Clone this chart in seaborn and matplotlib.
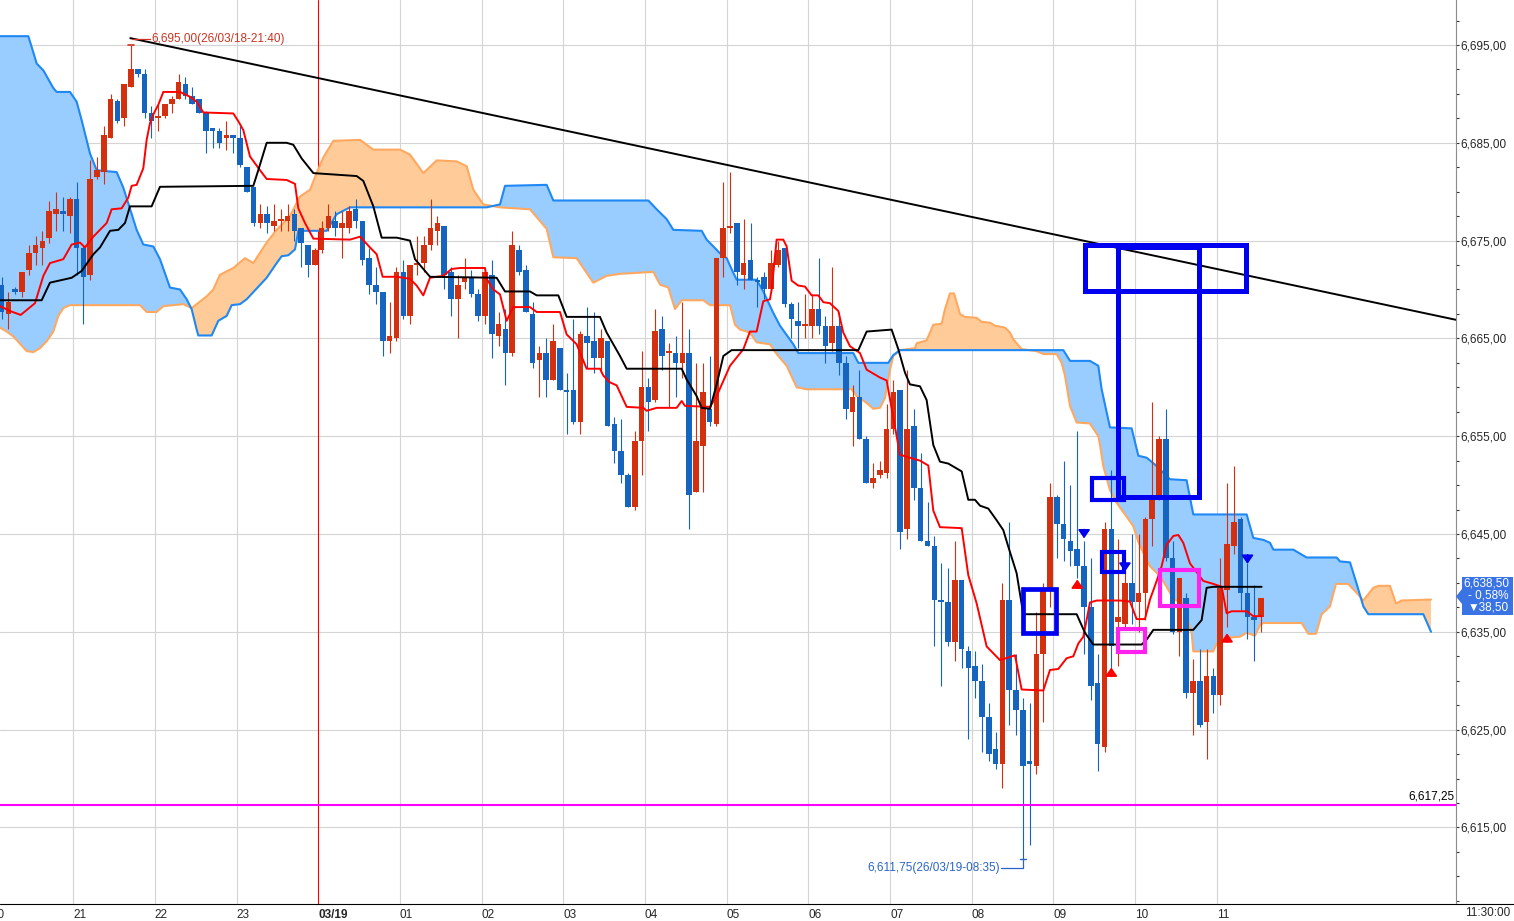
import numpy as np
import matplotlib
matplotlib.use('Agg')
import matplotlib.pyplot as plt
from matplotlib.lines import Line2D
from matplotlib.patches import Rectangle, Polygon
from matplotlib.ticker import FixedLocator, FuncFormatter
import seaborn as sns

# --- 5-minute candles, first bar = 20:05 (bar index -47 relative to 03/19 00:00) ---
first_bar = -47
opens = [
    6670.5, 6667.5, 6670.0, 6669.75, 6672.0, 6673.75, 6674.25, 6675.25, 6677.75, 6678.0, 6677.5,
    6679.25, 6674.25, 6671.5, 6681.5, 6682.0, 6685.5, 6689.25, 6687.5, 6690.75, 6692.5, 6692.0, 6688.0,
    6687.5, 6687.75, 6689.0, 6689.5, 6691.0, 6689.75, 6689.5, 6688.0, 6686.5, 6686.25, 6685.5, 6685.75,
    6685.5, 6682.5, 6680.5, 6676.75, 6677.75, 6676.5, 6677.0, 6677.0, 6677.75, 6676.25, 6674.5, 6672.5,
    6674.0, 6676.25, 6677.0, 6676.25, 6676.25, 6678.25, 6677.0, 6673.25, 6670.5, 6669.75, 6664.75, 6665.0,
    6671.75, 6667.25, 6672.5, 6672.75, 6674.5, 6676.0, 6676.5, 6671.75, 6669.0, 6670.75, 6671.25, 6669.5,
    6667.25, 6671.5, 6665.25, 6666.0, 6663.5, 6674.0, 6672.0, 6667.5, 6662.75, 6663.5, 6660.75, 6664.0,
    6659.75, 6659.75, 6656.5, 6665.25, 6664.75, 6663.0, 6664.75, 6656.25, 6653.5, 6651.0, 6647.75, 6654.5,
    6660.0, 6658.75, 6666.0, 6663.5, 6663.5, 6662.5, 6663.5, 6649.25, 6654.0, 6657.75, 6656.25, 6673.25,
    6676.25, 6676.75, 6671.5, 6673.0, 6671.0, 6671.25, 6670.0, 6672.5, 6674.25, 6668.5, 6666.75, 6666.25,
    6666.25, 6668.0, 6666.25, 6664.5, 6666.25, 6662.5, 6657.5, 6659.0, 6654.75, 6650.25, 6651.0, 6651.25,
    6655.75, 6659.75, 6645.5, 6656.0, 6649.75, 6644.25, 6643.75, 6638.25, 6638.0, 6634.0, 6640.25, 6633.0,
    6631.5, 6630.0, 6626.25, 6623.0, 6621.5, 6638.25, 6629.0, 6627.0, 6621.75, 6621.25, 6632.75, 6639.25,
    6648.75, 6646.0, 6644.25, 6643.5, 6641.75, 6637.5, 6629.75, 6623.25, 6645.5, 6636.0, 6635.75, 6640.0,
    6638.0, 6639.0, 6646.5, 6649.0, 6654.75, 6642.5, 6635.0, 6638.5, 6628.75, 6630.0, 6625.75, 6630.5,
    6628.5, 6639.25, 6643.75, 6646.5, 6639.0, 6636.5, 6636.5,
]
highs = [
    6671.25, 6669.75, 6670.25, 6671.75, 6674.5, 6675.5, 6676.0, 6679.0, 6680.0, 6679.5, 6679.5,
    6681.0, 6674.5, 6683.25, 6683.5, 6686.75, 6690.0, 6689.5, 6691.0, 6695.0, 6692.5, 6692.5, 6688.75,
    6689.0, 6689.0, 6689.75, 6692.0, 6691.75, 6690.75, 6689.5, 6688.25, 6686.5, 6686.5, 6687.25, 6685.75,
    6686.75, 6682.5, 6680.5, 6678.75, 6678.5, 6678.75, 6678.25, 6678.75, 6678.25, 6676.25, 6674.5, 6674.25,
    6677.0, 6678.75, 6678.0, 6678.0, 6678.5, 6679.25, 6677.0, 6674.25, 6672.25, 6669.75, 6668.75, 6672.25,
    6673.0, 6672.5, 6675.5, 6675.5, 6679.25, 6677.5, 6676.5, 6672.25, 6671.5, 6673.25, 6672.0, 6670.0,
    6671.75, 6673.0, 6667.75, 6668.0, 6676.0, 6674.5, 6672.5, 6668.75, 6664.25, 6665.0, 6666.5, 6664.0,
    6661.5, 6667.0, 6665.75, 6668.25, 6667.75, 6666.0, 6664.75, 6657.0, 6656.75, 6651.25, 6655.5, 6663.75,
    6661.0, 6668.0, 6667.25, 6664.5, 6665.25, 6668.75, 6666.0, 6662.5, 6662.5, 6663.25, 6673.25, 6681.0,
    6682.0, 6676.75, 6677.25, 6676.75, 6671.25, 6671.75, 6674.0, 6675.0, 6674.25, 6668.75, 6668.75, 6669.5,
    6669.5, 6673.25, 6667.25, 6672.25, 6667.75, 6663.25, 6660.25, 6661.75, 6655.0, 6652.25, 6652.5, 6658.25,
    6660.75, 6659.75, 6661.75, 6657.75, 6653.25, 6648.25, 6644.75, 6642.0, 6641.5, 6644.25, 6640.25, 6633.5,
    6633.0, 6631.75, 6627.75, 6624.75, 6640.0, 6646.25, 6632.75, 6628.25, 6627.75, 6637.0, 6640.0, 6650.25,
    6649.0, 6652.5, 6650.0, 6655.5, 6644.25, 6642.5, 6632.75, 6646.25, 6651.5, 6644.5, 6641.0, 6645.0,
    6645.0, 6646.75, 6658.5, 6655.0, 6657.75, 6644.25, 6640.5, 6639.0, 6632.25, 6633.25, 6633.25, 6631.25,
    6642.5, 6650.25, 6652.0, 6646.75, 6642.0, 6639.75, 6638.5,
]
lows = [
    6667.0, 6666.0, 6669.5, 6669.25, 6671.5, 6672.5, 6672.5, 6674.75, 6676.0, 6676.0, 6675.75,
    6671.5, 6666.5, 6671.0, 6681.25, 6680.75, 6685.5, 6687.0, 6686.75, 6690.75, 6691.75, 6687.5, 6685.5,
    6686.25, 6687.5, 6688.0, 6689.5, 6689.5, 6689.0, 6688.0, 6684.0, 6684.5, 6684.5, 6684.25, 6684.0,
    6682.5, 6680.0, 6676.5, 6676.25, 6675.75, 6676.0, 6676.0, 6676.0, 6675.0, 6672.25, 6671.25, 6672.5,
    6673.75, 6676.0, 6675.5, 6673.25, 6675.75, 6676.25, 6672.5, 6669.5, 6668.5, 6663.25, 6663.5, 6664.75,
    6667.0, 6666.5, 6671.5, 6671.75, 6674.0, 6674.5, 6670.0, 6667.25, 6665.0, 6670.0, 6669.25, 6666.75,
    6666.5, 6663.0, 6664.25, 6660.25, 6663.25, 6671.5, 6667.75, 6662.0, 6659.0, 6659.0, 6660.75, 6659.75,
    6655.25, 6656.25, 6655.25, 6662.0, 6661.5, 6661.5, 6656.0, 6652.25, 6650.25, 6647.75, 6647.5, 6651.0,
    6655.5, 6658.5, 6661.75, 6658.0, 6659.0, 6661.0, 6645.5, 6649.25, 6649.25, 6656.0, 6656.0, 6671.25,
    6675.75, 6670.5, 6670.0, 6671.0, 6668.25, 6669.0, 6669.75, 6672.25, 6668.25, 6665.0, 6664.0, 6665.0,
    6665.0, 6665.5, 6662.5, 6663.75, 6661.25, 6656.75, 6654.0, 6654.75, 6650.25, 6649.75, 6650.75, 6650.75,
    6655.25, 6643.5, 6644.5, 6648.5, 6644.25, 6643.75, 6633.5, 6629.5, 6633.5, 6632.0, 6631.25, 6624.0,
    6628.25, 6622.75, 6621.75, 6621.0, 6619.0, 6625.5, 6624.5, 6611.75, 6613.25, 6620.5, 6625.75, 6637.5,
    6642.5, 6642.25, 6641.75, 6640.5, 6632.75, 6628.0, 6620.75, 6622.75, 6630.75, 6631.5, 6635.5, 6635.75,
    6635.0, 6636.25, 6643.75, 6648.5, 6642.25, 6634.75, 6632.5, 6628.25, 6624.5, 6625.25, 6622.0, 6626.75,
    6627.5, 6635.5, 6643.0, 6637.25, 6634.25, 6632.0, 6635.0,
]
closes = [
    6667.75, 6668.75, 6669.75, 6671.75, 6673.75, 6674.5, 6675.0, 6678.0, 6678.25, 6677.75, 6679.25,
    6674.25, 6671.25, 6681.25, 6682.25, 6685.75, 6689.5, 6687.25, 6691.0, 6692.5, 6692.0, 6688.0, 6687.25,
    6687.75, 6689.0, 6689.5, 6691.25, 6689.75, 6689.0, 6688.0, 6686.25, 6686.25, 6685.0, 6685.75, 6685.5,
    6682.75, 6680.0, 6676.75, 6677.75, 6676.75, 6677.0, 6677.25, 6677.5, 6676.0, 6674.75, 6672.5, 6674.0,
    6676.25, 6677.5, 6676.25, 6676.75, 6678.0, 6677.0, 6673.0, 6670.5, 6669.75, 6664.75, 6665.25, 6671.75,
    6667.25, 6672.5, 6672.75, 6674.5, 6676.25, 6676.75, 6671.5, 6669.0, 6670.5, 6671.25, 6669.5, 6667.25,
    6671.75, 6665.5, 6666.5, 6663.5, 6674.5, 6671.75, 6667.75, 6662.5, 6663.5, 6660.75, 6664.75, 6659.75,
    6659.5, 6656.5, 6665.5, 6664.5, 6663.0, 6665.0, 6656.0, 6653.5, 6651.0, 6647.75, 6654.5, 6660.0,
    6658.5, 6665.75, 6663.25, 6663.75, 6662.5, 6663.5, 6649.0, 6654.5, 6659.5, 6656.5, 6673.25, 6676.25,
    6676.5, 6671.75, 6672.75, 6671.0, 6670.75, 6670.0, 6672.75, 6674.0, 6668.5, 6667.0, 6666.25, 6666.5,
    6668.0, 6666.25, 6664.25, 6666.25, 6662.5, 6657.75, 6659.0, 6654.75, 6650.25, 6650.75, 6651.5, 6655.75,
    6659.5, 6645.25, 6655.75, 6649.75, 6644.25, 6643.75, 6638.25, 6638.0, 6634.0, 6640.25, 6633.25, 6631.25,
    6630.0, 6626.25, 6622.5, 6621.5, 6638.25, 6629.0, 6627.0, 6621.25, 6621.5, 6632.75, 6639.25, 6648.75,
    6646.0, 6644.5, 6643.25, 6641.75, 6637.5, 6629.5, 6623.5, 6645.5, 6633.5, 6636.5, 6640.0, 6638.0,
    6639.0, 6646.5, 6648.5, 6654.75, 6642.5, 6635.0, 6640.5, 6628.75, 6630.0, 6625.5, 6630.5, 6628.5,
    6639.5, 6644.0, 6646.25, 6639.0, 6636.5, 6636.25, 6638.5,
]

# --- Ichimoku lines, read as breakpoints (x in 5-min bars from 03/19 00:00) ---
tenkan_x = [-46.74, -45.27, -43.70, -41.60, -40.37, -39.40, -37.44, -36.21, -34.99, -34.26, -33.03,
            -32.05, -31.07, -30.34, -28.87, -27.89, -27.40, -26.67, -25.69, -25.20, -24.71, -24.22,
            -23.48, -22.75, -20.30, -18.83, -17.85, -16.87, -12.47, -11.73, -11.00, -10.02, -8.55,
            -7.57, -4.64, -3.41, -2.92, -1.94, -0.71, 4.67, 6.14, 7.61, 8.59, 9.47, 11.53, 13.48, 14.46,
            15.44, 16.42, 18.38, 19.60, 20.83, 24.50, 24.74, 25.72, 26.70, 27.68, 28.66, 31.11, 32.09,
            35.52, 36.50, 37.96, 39.43, 41.39, 41.88, 42.86, 43.84, 44.57, 45.31, 47.76, 48.25, 49.72,
            52.65, 53.39, 53.88, 57.55, 58.53, 60.49, 62.45, 63.42, 64.40, 65.38, 66.36, 66.61, 67.34,
            68.32, 68.81, 69.54, 70.52, 71.50, 72.48, 73.46, 74.20, 75.17, 76.40, 77.13, 78.11, 79.58,
            80.56, 82.52, 83.50, 85.46, 88.40, 89.62, 90.35, 91.33, 94.52, 95.49, 96.72, 98.19, 100.15,
            102.35, 103.33, 106.51, 107.49, 108.71, 109.94, 110.92, 111.65, 112.39, 113.37, 114.35,
            117.77, 119.24, 120.22, 121.44, 122.18, 123.16, 123.89, 124.63, 125.61, 126.34, 127.07,
            128.05, 130.01, 131.48, 132.71, 133.44, 134.18, 136.38, 137.36, 138.58]
tenkan_y = [6668.3, 6667.8, 6667.4, 6668.6, 6671.4, 6672.7, 6673.1, 6674.6, 6674.8, 6674.3, 6675.4,
            6676.1, 6676.8, 6678.2, 6678.3, 6679.4, 6680.6, 6680.7, 6682.4, 6685.3, 6687.0, 6687.9,
            6688.9, 6690.2, 6690.2, 6689.7, 6689.2, 6688.1, 6688.0, 6687.2, 6686.3, 6683.6, 6682.2,
            6681.3, 6681.2, 6680.8, 6678.3, 6676.8, 6675.2, 6675.1, 6675.4, 6674.3, 6673.6, 6671.3,
            6671.3, 6671.1, 6670.4, 6669.4, 6671.2, 6671.4, 6672.1, 6672.2, 6672.2, 6671.1, 6670.0,
            6669.5, 6666.8, 6668.2, 6668.2, 6667.7, 6667.7, 6665.4, 6664.4, 6661.9, 6661.9, 6661.2,
            6660.5, 6660.2, 6659.1, 6658.0, 6657.9, 6657.6, 6657.9, 6657.9, 6658.6, 6658.1, 6658.0,
            6659.1, 6662.2, 6663.9, 6665.7, 6665.7, 6668.8, 6669.0, 6670.0, 6675.1, 6675.1, 6674.4,
            6670.9, 6670.4, 6670.3, 6669.4, 6669.4, 6668.7, 6668.6, 6667.8, 6665.6, 6664.2, 6663.5,
            6661.8, 6661.0, 6660.7, 6653.1, 6652.5, 6652.0, 6647.4, 6645.7, 6645.6, 6640.8, 6637.9,
            6633.5, 6632.1, 6632.6, 6629.1, 6629.0, 6631.1, 6631.2, 6632.3, 6632.5, 6633.8, 6634.5,
            6638.0, 6638.2, 6638.2, 6638.1, 6636.3, 6636.3, 6638.3, 6640.2, 6641.7, 6643.9, 6644.8,
            6644.9, 6644.1, 6642.0, 6640.2, 6639.9, 6639.6, 6636.9, 6637.1, 6637.1, 6636.6, 6636.6]

kijun_x = [-46.74, -40.62, -39.40, -36.21, -34.74, -33.03, -32.05, -30.58, -29.36, -28.38, -27.65,
           -24.47, -23.24, -9.53, -8.80, -7.57, -4.64, -3.66, -2.43, -0.71, 5.65, 6.63, 8.10, 9.32,
           11.53, 13.48, 14.22, 16.42, 26.21, 27.44, 31.11, 32.09, 35.27, 36.50, 41.39, 42.37, 44.33,
           45.31, 53.39, 54.12, 55.59, 56.33, 57.55, 58.53, 59.51, 60.73, 79.34, 80.56, 84.23, 85.21,
           86.19, 86.92, 88.40, 89.37, 90.35, 91.33, 92.56, 94.52, 95.49, 96.47, 97.21, 98.43, 99.66,
           100.63, 101.37, 102.59, 103.08, 103.57, 111.41, 112.63, 113.86, 120.96, 121.69, 122.67,
           128.54, 129.77, 130.50, 131.48, 138.58]
kijun_y = [6668.9, 6668.9, 6670.7, 6671.2, 6671.9, 6673.6, 6674.3, 6676.0, 6676.1, 6676.8, 6678.5,
           6678.5, 6680.5, 6680.6, 6682.2, 6685.0, 6685.0, 6684.8, 6683.4, 6681.9, 6681.6, 6681.1,
           6678.5, 6675.3, 6675.3, 6675.0, 6673.1, 6671.3, 6671.2, 6669.8, 6669.8, 6669.4, 6669.4,
           6667.2, 6667.2, 6665.6, 6663.2, 6661.9, 6661.9, 6660.8, 6659.1, 6657.9, 6657.8, 6660.3,
           6663.2, 6663.8, 6663.8, 6665.7, 6665.9, 6663.9, 6661.5, 6660.3, 6660.1, 6658.7, 6654.1,
           6652.4, 6652.2, 6651.4, 6648.5, 6648.5, 6647.9, 6647.6, 6646.4, 6645.4, 6643.7, 6641.0,
           6638.9, 6636.8, 6636.8, 6634.9, 6633.7, 6633.7, 6634.2, 6635.2, 6635.2, 6636.2, 6639.5,
           6639.6, 6639.6]

span_a_x = [-46.74, -42.58, -42.09, -41.35, -40.37, -38.91, -38.42, -36.46, -35.48, -34.74, -33.52,
            -32.54, -29.60, -28.62, -27.89, -26.67, -25.69, -24.22, -23.24, -21.77, -20.30, -19.32,
            -18.59, -17.85, -17.61, -15.65, -14.67, -13.45, -12.71, -11.49, -10.51, -7.57, -6.10,
            -5.37, -4.39, -3.41, -2.92, 1.24, 2.71, 4.67, 24.74, 26.70, 27.44, 33.56, 34.54, 48.49,
            49.72, 51.18, 52.16, 56.33, 57.06, 59.02, 60.00, 60.98, 61.47, 64.40, 65.38, 66.85, 67.83,
            69.79, 70.52, 78.60, 79.34, 83.74, 84.48, 85.46, 109.45, 110.43, 113.36, 114.59, 115.08,
            116.30, 119.49, 120.47, 121.69, 122.91, 125.12, 127.56, 128.54, 136.38, 137.36, 138.83,
            139.81, 140.30, 143.23, 145.19, 149.60, 150.09, 151.56, 152.54, 153.52, 154.25, 162.33,
            163.46]
span_a_y = [6695.9, 6695.9, 6694.8, 6693.1, 6692.4, 6690.6, 6690.2, 6690.2, 6689.2, 6687.3, 6683.9,
            6682.2, 6682.0, 6680.4, 6678.8, 6676.1, 6674.6, 6674.4, 6673.1, 6670.2, 6670.0, 6669.0,
            6668.0, 6665.9, 6665.3, 6665.3, 6666.8, 6667.3, 6668.4, 6668.5, 6669.0, 6671.2, 6672.7,
            6673.4, 6673.5, 6674.1, 6676.0, 6676.0, 6677.7, 6678.4, 6678.4, 6678.7, 6680.6, 6680.7,
            6679.1, 6679.1, 6678.2, 6677.2, 6676.1, 6676.0, 6675.1, 6673.7, 6673.2, 6671.7, 6671.0,
            6671.0, 6669.8, 6667.6, 6666.3, 6664.4, 6663.5, 6663.5, 6662.5, 6662.5, 6663.3, 6663.8,
            6663.8, 6662.7, 6662.7, 6662.2, 6659.8, 6655.9, 6655.8, 6653.0, 6652.8, 6652.1, 6650.6,
            6650.5, 6647.0, 6647.0, 6644.6, 6644.4, 6644.1, 6643.4, 6643.4, 6642.6, 6642.6, 6642.2,
            6642.1, 6639.9, 6637.6, 6636.8, 6636.8, 6635.0]

span_b_x = [-46.74, -45.76, -44.78, -42.82, -41.84, -40.87, -39.89, -38.91, -38.17, -37.44, -36.46,
            -26.18, -25.20, -23.73, -22.75, -19.81, -18.59, -16.38, -15.41, -14.43, -12.47, -10.76,
            -9.53, -7.57, -6.10, -4.15, -2.68, -1.20, -0.23, 0.75, 2.22, 6.14, 8.10, 12.02, 13.48,
            15.44, 17.40, 20.34, 21.81, 22.79, 24.25, 26.70, 31.11, 33.56, 34.54, 37.96, 40.41, 42.37,
            44.33, 49.23, 50.21, 51.43, 52.41, 53.39, 56.57, 57.55, 60.49, 61.22, 61.96, 63.42, 64.40,
            66.36, 67.34, 68.81, 70.28, 71.75, 78.36, 79.09, 80.56, 81.54, 82.52, 83.25, 83.99, 84.48,
            85.46, 87.66, 87.91, 89.37, 90.35, 91.58, 92.07, 92.80, 93.39, 94.27, 95.00, 96.72, 97.45,
            98.68, 99.41, 100.88, 101.61, 102.10, 103.33, 105.53, 106.51, 108.47, 109.20, 109.69,
            110.43, 111.41, 113.36, 114.59, 114.84, 115.33, 116.30, 117.28, 119.73, 120.47, 121.44,
            122.18, 123.65, 124.63, 125.61, 127.07, 128.30, 128.54, 131.48, 131.97, 133.44, 135.40,
            136.38, 137.60, 138.34, 138.83, 144.46, 145.44, 146.56, 147.40, 148.62, 149.50, 151.31,
            152.78, 153.52, 154.99, 155.72, 157.43, 158.31, 159.15, 163.46]
span_b_y = [6666.1, 6665.7, 6665.2, 6663.7, 6663.6, 6664.0, 6664.7, 6665.7, 6667.3, 6668.1, 6668.4,
            6668.4, 6667.7, 6667.7, 6668.3, 6668.5, 6668.1, 6669.3, 6670.0, 6671.5, 6672.2, 6673.2,
            6672.7, 6674.8, 6676.1, 6677.5, 6679.5, 6680.2, 6681.9, 6683.5, 6685.2, 6685.3, 6684.3,
            6684.3, 6683.8, 6681.9, 6683.2, 6683.1, 6682.6, 6680.2, 6678.7, 6678.4, 6678.2, 6676.2,
            6673.3, 6673.2, 6670.7, 6671.4, 6671.6, 6671.8, 6670.5, 6670.2, 6668.0, 6668.9, 6668.9,
            6668.4, 6668.4, 6666.4, 6665.9, 6665.6, 6664.6, 6664.4, 6663.4, 6662.2, 6660.0, 6659.8,
            6659.8, 6659.1, 6658.4, 6657.8, 6657.9, 6658.9, 6661.8, 6663.2, 6663.8, 6664.0, 6664.5,
            6664.8, 6666.4, 6666.5, 6668.0, 6669.6, 6669.6, 6667.5, 6667.2, 6667.1, 6666.7, 6666.6,
            6666.3, 6666.1, 6665.6, 6664.9, 6663.9, 6663.7, 6663.4, 6663.4, 6662.5, 6661.2, 6658.1,
            6656.4, 6656.3, 6655.0, 6654.1, 6651.9, 6649.5, 6648.2, 6645.8, 6644.2, 6642.7, 6641.7,
            6640.7, 6639.6, 6638.4, 6637.8, 6634.9, 6633.0, 6633.0, 6633.8, 6634.4, 6634.5, 6634.9,
            6634.6, 6635.7, 6635.9, 6635.9, 6634.8, 6634.8, 6636.8, 6637.6, 6639.9, 6639.9, 6638.8,
            6638.2, 6639.5, 6639.7, 6639.7, 6637.9, 6638.2, 6638.3]

# trend line drawn from the 21:40 high
trend_x = [-27.6, 167.13]
trend_y = [6695.7, 6666.9]

support_level = 6617.25
high_price, high_bar = 6695.00, -27.5
low_price, low_bar = 6611.75, 103.5

# signal arrows (bar, price)
up_arrow_x = [111.5, 116.5, 133.5]
up_arrow_y = [6639.9, 6630.9, 6634.4]
down_arrow_x = [112.5, 118.5, 136.5]
down_arrow_y = [6645.0, 6641.6, 6642.4]

# drawn boxes: x0, x1, y0, y1, line width
blue_boxes = [(112.6, 136.25, 6669.8, 6674.55, 3.6), (117.48, 129.38, 6648.8, 6674.3, 3.6),
              (113.59, 118.39, 6648.5, 6650.7, 3.0), (115.1, 118.4, 6641.1, 6643.2, 3.0),
              (103.5, 108.4, 6634.9, 6639.4, 3.4)]
magenta_boxes = [(123.6, 129.45, 6637.6, 6641.3, 3.0), (117.5, 121.4, 6632.9, 6635.3, 3.0)]

hour_ticks = [-3, -2, -1, 0, 1, 2, 3, 4, 5, 6, 7, 8, 9, 10, 11]
hour_labels = ['21', '22', '23', '03/19', '01', '02', '03', '04', '05', '06', '07', '08', '09', '10', '11']
price_ticks = np.arange(6615, 6700, 10)

UP, DOWN = '#D3300F', '#1565C0'
GRID = '#D4D4D4'
FS = 8.5

sns.set_style('white')
plt.rcParams['font.family'] = ['Liberation Sans', 'DejaVu Sans']

W, H = 1514, 921
fig = plt.figure(figsize=(W / 100, H / 100), dpi=100)
ax = fig.add_axes([0, 17 / H, 1456 / W, 904 / H])
ax.set_xlim(-46.74, 167.13)
ax.set_ylim(6607.17, 6699.60)

# grid
for h in hour_ticks:
    ax.axvline(12 * h, color='#FF0000' if h == 0 else GRID, lw=0.8, zorder=0.5 if h == 0 else 0)
for p in price_ticks:
    ax.axhline(p, color=GRID, lw=0.8, zorder=0)

# cloud
xu = np.union1d(span_a_x, span_b_x)
a = np.interp(xu, span_a_x, span_a_y)
b = np.interp(xu, span_b_x, span_b_y)
ax.fill_between(xu, a, b, where=a >= b, interpolate=True, color='#99CCFF', lw=0, zorder=1)
ax.fill_between(xu, a, b, where=a < b, interpolate=True, color='#FFCC99', lw=0, zorder=1)
sns.lineplot(x=span_b_x, y=span_b_y, ax=ax, color='#FFA860', linewidth=1.5, sort=False, estimator=None, zorder=2)
sns.lineplot(x=span_a_x, y=span_a_y, ax=ax, color='#1E88F5', linewidth=1.5, sort=False, estimator=None, zorder=2)

# candles
o, hi, lo, c = map(np.array, (opens, highs, lows, closes))
bar_x = first_bar + 0.5 + np.arange(len(o))
cols = np.where(c >= o, UP, DOWN)
ax.vlines(bar_x, lo, hi, colors=cols, lw=0.8, zorder=3)
ax.bar(bar_x, np.maximum(np.abs(c - o), 0.12), bottom=np.minimum(o, c), width=0.82,
       color=cols, lw=0, zorder=3.5)

# conversion / base lines
sns.lineplot(x=tenkan_x, y=tenkan_y, ax=ax, color='#FF0000', linewidth=1.4, sort=False, estimator=None, zorder=4)
sns.lineplot(x=kijun_x, y=kijun_y, ax=ax, color='#000000', linewidth=1.4, sort=False, estimator=None, zorder=4)
sns.lineplot(x=trend_x, y=trend_y, ax=ax, color='#000000', linewidth=1.4, sort=False, estimator=None, zorder=4)

ax.axhline(support_level, color='#FF00FF', lw=1.5, zorder=5)
ax.text(166.9, support_level + 0.3, '6,617,25', ha='right', va='bottom', fontsize=FS, color='black')

# boxes
for x0, x1, y0, y1, lw in blue_boxes:
    ax.add_patch(Rectangle((x0, y0), x1 - x0, y1 - y0, fill=False, ec='#0000F0', lw=lw,
                           joinstyle='miter', zorder=6))
for x0, x1, y0, y1, lw in magenta_boxes:
    ax.add_patch(Rectangle((x0, y0), x1 - x0, y1 - y0, fill=False, ec='#FF22EE', lw=lw,
                           joinstyle='miter', zorder=6))

# arrows
for x, y in zip(up_arrow_x, up_arrow_y):
    ax.annotate('', xy=(x, y + 0.45), xytext=(x, y - 0.45),
                arrowprops=dict(arrowstyle='-|>,head_length=0.5,head_width=0.35', color='#FF0000',
                                lw=1.3, shrinkA=0, shrinkB=0), zorder=6)
for x, y in zip(down_arrow_x, down_arrow_y):
    ax.annotate('', xy=(x, y - 0.45), xytext=(x, y + 0.45),
                arrowprops=dict(arrowstyle='-|>,head_length=0.5,head_width=0.35', color='#0000F0',
                                lw=1.3, shrinkA=0, shrinkB=0), zorder=6)

# high / low annotations
ax.plot([high_bar - 0.5, high_bar + 0.5], [high_price, high_price], color='#D03020', lw=1.2, zorder=6)
ax.plot([high_bar + 0.2, -24.7], [high_price + 0.6, high_price + 0.6], color='#D03020', lw=0.9, zorder=6)
ax.text(-24.5, high_price + 0.6, '6,695,00(26/03/18-21:40)', color='#CC3322', fontsize=FS,
        va='center', ha='left', zorder=7)
ax.plot([low_bar - 0.4, low_bar + 0.4], [low_price, low_price], color='#2A64C8', lw=1.0, zorder=6)
ax.plot([low_bar, low_bar, 100.3], [low_price, low_price - 0.95, low_price - 0.95],
        color='#2A64C8', lw=0.9, zorder=6)
ax.text(100.2, low_price - 0.95, '6,611,75(26/03/19-08:35)', color='#2A64C8', fontsize=FS,
        va='center', ha='right', zorder=7)

# axes styling
for s in ('top', 'left', 'bottom'):
    ax.spines[s].set_visible(False)
ax.spines['right'].set_color('#8C8C8C')
ax.spines['right'].set_linewidth(0.8)

ax.yaxis.tick_right()
ax.yaxis.set_major_locator(FixedLocator(price_ticks))
ax.yaxis.set_minor_locator(FixedLocator([v for v in np.arange(6607.5, 6700, 2.5) if v not in price_ticks]))
ax.yaxis.set_major_formatter(FuncFormatter(lambda v, pos: f"{v:,.2f}".replace('.', ',')))
ax.tick_params(axis='y', which='both', direction='out', length=2.5, width=0.8, color='#333333',
               labelsize=FS, pad=1)

ax.set_xticks([12 * h for h in hour_ticks])
ax.set_xticklabels(hour_labels)
ax.tick_params(axis='x', direction='out', length=3, width=0.8, color='black', labelsize=FS, pad=0.8)
for lbl in ax.get_xticklabels():
    lbl.set_horizontalalignment('left')
    if lbl.get_text() == '03/19':
        lbl.set_fontweight('bold')
# the 20:00 label sits just left of the view, only its last digit shows
ax.annotate('20', xy=(-48, 0), xycoords=('data', 'axes fraction'), xytext=(0, -3.8),
            textcoords='offset points', ha='left', va='top', fontsize=FS, annotation_clip=False)

fig.add_artist(Line2D([0, 1], [17 / H, 17 / H], transform=fig.transFigure, color='black', lw=0.8))
fig.text(1510 / W, 1 - 913 / H, '11:30:00', ha='right', va='center', fontsize=FS)

# last price tag
tag = [(1456, 596.5), (1462, 589), (1462, 577), (1513, 577), (1513, 615), (1462, 615), (1462, 604)]
fig.add_artist(Polygon([(x / W, 1 - y / H) for x, y in tag], closed=True, transform=fig.transFigure,
                       facecolor='#3A74E4', edgecolor='none'))
for txt, yy in [('6,638,50', 584), ('- 0,58%', 596), ('\u25bc38,50', 608)]:
    fig.text(1509 / W, 1 - yy / H, txt, ha='right', va='center', fontsize=FS, color='white')

fig.savefig('out.png', dpi=100)
